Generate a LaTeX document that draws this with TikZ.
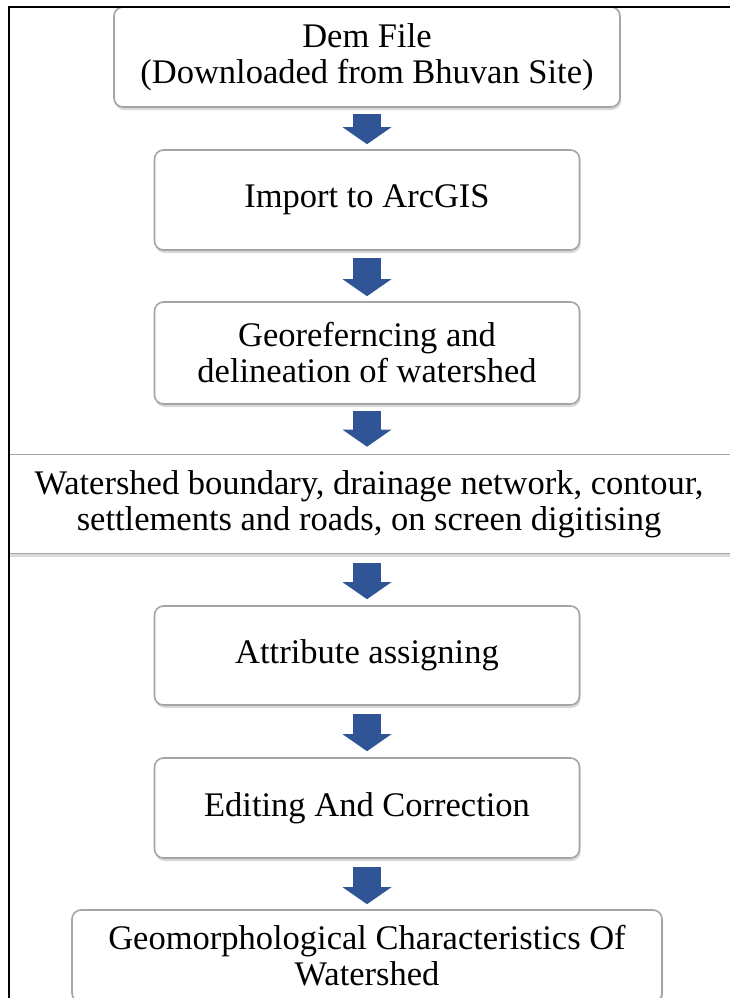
\documentclass[tikz,border=0pt]{standalone}
\usepackage{fontspec}
\setmainfont{Liberation Serif}
\usepackage{tikz}
\usetikzlibrary{calc, shadows, arrows.meta}
\definecolor{myblue}{RGB}{47, 85, 151}
\definecolor{mygray1}{RGB}{165, 165, 165}

\begin{document}
\begin{tikzpicture}[
    x = 1pt, y = -1pt,
    box/.style = {draw = mygray1, line width = 1.6pt, fill = white, rounded corners = 9pt, align = center, inner sep = 0pt, font = \fontsize{34.5}{36}\selectfont, drop shadow = {shadow xshift = 1pt, shadow yshift = -3pt, opacity = 0.3}},
    flow/.style = {myblue, line width = 28pt, -{Triangle[width = 48pt 0 1, length = 17pt 0 1]}}
]
\useasboundingbox (0,0) rectangle (730,998);
\clip (0,0) rectangle (730,998);

\node[box, minimum width = 506pt, minimum height = 100pt] (dem) at (367, 57) {Dem File\\(Downloaded from Bhuvan Site)};
\node[box, minimum width = 425pt, minimum height = 100pt] (imp) at (367, 200) {Import to ArcGIS};
\node[box, minimum width = 425pt, minimum height = 102pt] (geo) at (367, 353) {Georeferncing and\\delineation of watershed};
\begin{scope}
\clip (9,0) rectangle (730,998);
\node[box, rounded corners = 0pt, minimum width = 742pt, minimum height = 99pt] (ws) at (369, 504) {Watershed boundary, drainage network, contour,\\settlements and roads, on screen digitising};
\end{scope}
\node[box, minimum width = 425pt, minimum height = 99pt] (attr) at (367, 655.5) {Attribute assigning};
\node[box, minimum width = 425pt, minimum height = 100pt] (edit) at (367, 808) {Editing And Correction};
\node[box, minimum width = 590pt, minimum height = 92pt] (geom) at (367, 956) {Geomorphological Characteristics Of\\Watershed};

\draw[flow] ($(dem.south)+(0,6)$) -- ($(imp.north)+(0,-5)$);
\draw[flow] ($(imp.south)+(0,7)$) -- ($(geo.north)+(0,-5)$);
\draw[flow] ($(geo.south)+(0,6)$) -- ($(geo.south |- ws.north)+(0,-7)$);
\draw[flow] ($(attr.north |- ws.south)+(0,9)$) -- ($(attr.north)+(0,-6)$);
\draw[flow] ($(attr.south)+(0,8)$) -- ($(edit.north)+(0,-6)$);
\draw[flow] ($(edit.south)+(0,8)$) -- ($(geom.north)+(0,-5)$);

\draw[line width = 1.5pt] (9,998) -- (9,7) -- (730,7);
\end{tikzpicture}
\end{document}
